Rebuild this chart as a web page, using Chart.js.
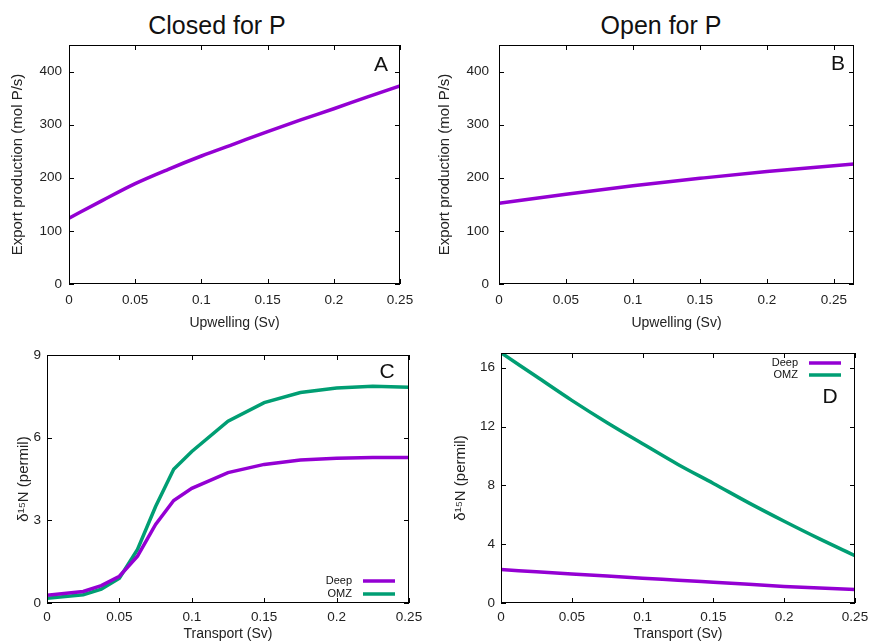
<!DOCTYPE html>
<html>
<head>
<meta charset="utf-8">
<script src="https://cdn.jsdelivr.net/npm/chart.js@4.4.1/dist/chart.umd.min.js"></script>
<style>
  body { margin: 0; background: #fff; width: 872px; height: 643px; position: relative; overflow: hidden; font-family: "Liberation Sans", Arial, sans-serif; }
  .panel { position: absolute; }
  .title { position: absolute; top: 10px; width: 300px; line-height: 30px; font-size: 25px; color: #111; text-align: center; }
</style>
</head>
<body>
<div class="title" style="left:67px">Closed for P</div>
<div class="title" style="left:511px">Open for P</div>
<div class="panel" style="left:0;top:40px;width:430px;height:300px"><canvas id="chartA"></canvas></div>
<div class="panel" style="left:430px;top:40px;width:442px;height:300px"><canvas id="chartB"></canvas></div>
<div class="panel" style="left:0;top:340px;width:430px;height:303px"><canvas id="chartC"></canvas></div>
<div class="panel" style="left:430px;top:340px;width:442px;height:303px"><canvas id="chartD"></canvas></div>
<script>
// Panel A: closed for P
const upwellingA = [0, 0.025, 0.05, 0.075, 0.1, 0.125, 0.15, 0.175, 0.2, 0.225, 0.25];
const exportClosed = [124, 157, 189, 216, 241, 264, 287, 309, 330, 352, 373];

// Panel B: open for P
const upwellingB = [0, 0.05, 0.1, 0.15, 0.2, 0.265];
const exportOpen = [152, 169, 185, 199, 212, 226];

// Panel C: d15N, closed
const transportC = [0, 0.025, 0.0375, 0.05, 0.0625, 0.075, 0.0875, 0.1, 0.125, 0.15, 0.175, 0.2, 0.225, 0.25];
const deepClosed = [0.28, 0.42, 0.63, 0.97, 1.7, 2.85, 3.72, 4.16, 4.73, 5.03, 5.19, 5.25, 5.28, 5.28];
const omzClosed = [0.17, 0.3, 0.5, 0.9, 1.94, 3.5, 4.85, 5.5, 6.6, 7.27, 7.64, 7.8, 7.87, 7.83];

// Panel D: d15N, open
const transportD = [0, 0.025, 0.05, 0.075, 0.1, 0.125, 0.15, 0.175, 0.2, 0.225, 0.25];
const deepOpen = [2.27, 2.12, 1.97, 1.83, 1.68, 1.55, 1.41, 1.27, 1.13, 1.02, 0.91];
const omzOpen = [17.02, 15.4, 13.78, 12.26, 10.83, 9.42, 8.13, 6.81, 5.56, 4.36, 3.22];

const PURPLE = "#9400D3";
const GREEN = "#009E73";

Chart.defaults.font.family = '"Liberation Sans", Arial, sans-serif';
Chart.defaults.font.size = 13.5;
Chart.defaults.color = "#222";

const toPoints = (xs, ys) => xs.map((x, i) => ({ x: x, y: ys[i] }));
const fmt = (v) => String(+v.toFixed(3));

// gnuplot style: frame, inward ticks, panel letter, key
const gnuplotLook = {
  id: "gnuplotLook",
  afterDatasetsDraw(chart, args, opts) {
    const { ctx, chartArea: a, scales } = chart;
    ctx.save();
    ctx.strokeStyle = "#000";
    ctx.lineWidth = 1;
    ctx.strokeRect(Math.round(a.left) + 0.5, Math.round(a.top) + 0.5,
      Math.round(a.right - a.left) - 1, Math.round(a.bottom - a.top) - 1);

    ctx.beginPath();
    scales.x.ticks.forEach((t) => {
      const px = Math.round(scales.x.getPixelForValue(t.value)) + 0.5;
      ctx.moveTo(px, a.bottom); ctx.lineTo(px, a.bottom - 5);
      ctx.moveTo(px, a.top); ctx.lineTo(px, a.top + 5);
    });
    scales.y.ticks.forEach((t) => {
      const py = Math.round(scales.y.getPixelForValue(t.value)) + 0.5;
      ctx.moveTo(a.left, py); ctx.lineTo(a.left + 5, py);
      ctx.moveTo(a.right, py); ctx.lineTo(a.right - 5, py);
    });
    ctx.stroke();

    // panel letter
    ctx.fillStyle = "#111";
    ctx.font = '21px "Liberation Sans", Arial, sans-serif';
    ctx.textAlign = "center";
    ctx.textBaseline = "middle";
    ctx.fillText(opts.letter, a.right + opts.letterDx, a.top + opts.letterDy);

    // key
    if (opts.key) {
      const k = opts.key;
      const baseY = k.fromBottom ? a.bottom - k.dy : a.top + k.dy;
      ctx.font = '11px "Liberation Sans", Arial, sans-serif';
      ctx.textAlign = "right";
      chart.data.datasets.forEach((ds, i) => {
        const y = baseY + i * k.gap;
        ctx.fillStyle = "#111";
        ctx.fillText(ds.label, a.right - 57, y);
        ctx.strokeStyle = ds.borderColor;
        ctx.lineWidth = 3.5;
        ctx.beginPath();
        ctx.moveTo(a.right - 46, y);
        ctx.lineTo(a.right - 14, y);
        ctx.stroke();
      });
    }
    ctx.restore();
  },
};

function makeChart(id, p) {
  return new Chart(document.getElementById(id), {
    type: "line",
    data: { datasets: p.datasets },
    options: {
      responsive: true,
      maintainAspectRatio: false,
      animation: false,
      layout: { padding: { top: p.padTop, right: p.padRight, left: 0, bottom: 0 } },
      elements: { point: { radius: 0 } },
      plugins: {
        legend: { display: false },
        tooltip: { enabled: false },
        gnuplotLook: p.look,
      },
      scales: {
        x: {
          type: "linear",
          min: 0,
          max: p.xMax,
          grid: { display: false, drawTicks: false },
          border: { display: false },
          ticks: { stepSize: 0.05, includeBounds: false, padding: p.xTickPad, maxRotation: 0, autoSkip: false, callback: fmt },
          title: { display: true, text: p.xTitle, font: { size: 14 }, padding: { top: 0, bottom: p.xTitlePad } },
          afterFit: (s) => { s.height = p.xHeight; s.paddingLeft = 0; s.paddingRight = 0; },
        },
        y: {
          min: 0,
          max: p.yMax,
          grid: { display: false, drawTicks: false },
          border: { display: false },
          ticks: { stepSize: p.yStep, includeBounds: false, padding: p.yTickPad, callback: fmt },
          title: { display: true, text: p.yTitle, font: { size: 15 }, padding: { top: p.yTitlePad, bottom: 0 } },
          afterFit: (s) => { s.width = p.yWidth; s.paddingTop = 0; s.paddingBottom = 0; },
        },
      },
    },
    plugins: [gnuplotLook],
  });
}

function line(label, xs, ys, color, smooth) {
  return {
    label: label,
    data: toPoints(xs, ys),
    borderColor: color,
    backgroundColor: color,
    borderWidth: 3.5,
    fill: false,
    tension: smooth ? 0.4 : 0,
    cubicInterpolationMode: smooth ? "monotone" : "default",
  };
}

makeChart("chartA", {
  datasets: [line("Closed", upwellingA, exportClosed, PURPLE, true)],
  xMax: 0.25, yMax: 450, yStep: 100,
  padTop: 5, padRight: 30, yWidth: 69, xHeight: 56,
  xTickPad: 8, yTickPad: 7, xTitlePad: 8, yTitlePad: 9,
  xTitle: "Upwelling (Sv)", yTitle: "Export production (mol P/s)",
  look: { letter: "A", letterDx: -19, letterDy: 20 },
});

makeChart("chartB", {
  datasets: [line("Open", upwellingB, exportOpen, PURPLE, true)],
  xMax: 0.265, yMax: 450, yStep: 100,
  padTop: 5, padRight: 18, yWidth: 69, xHeight: 56,
  xTickPad: 8, yTickPad: 10, xTitlePad: 8, yTitlePad: 6,
  xTitle: "Upwelling (Sv)", yTitle: "Export production (mol P/s)",
  look: { letter: "B", letterDx: -16, letterDy: 19 },
});

makeChart("chartC", {
  datasets: [
    line("Deep", transportC, deepClosed, PURPLE, false),
    line("OMZ", transportC, omzClosed, GREEN, false),
  ],
  xMax: 0.25, yMax: 9, yStep: 3,
  padTop: 15, padRight: 21, yWidth: 47, xHeight: 40,
  xTickPad: 6, yTickPad: 6, xTitlePad: 0, yTitlePad: 15,
  xTitle: "Transport (Sv)", yTitle: "δ¹⁵N (permil)",
  look: { letter: "C", letterDx: -22, letterDy: 17, key: { fromBottom: true, dy: 22, gap: 13 } },
});

makeChart("chartD", {
  datasets: [
    line("Deep", transportD, deepOpen, PURPLE, true),
    line("OMZ", transportD, omzOpen, GREEN, true),
  ],
  xMax: 0.25, yMax: 17, yStep: 4,
  padTop: 13, padRight: 17, yWidth: 71, xHeight: 40,
  xTickPad: 6, yTickPad: 6, xTitlePad: 0, yTitlePad: 22,
  xTitle: "Transport (Sv)", yTitle: "δ¹⁵N (permil)",
  look: { letter: "D", letterDx: -25, letterDy: 44, key: { fromBottom: false, dy: 10, gap: 12 } },
});
</script>
</body>
</html>
